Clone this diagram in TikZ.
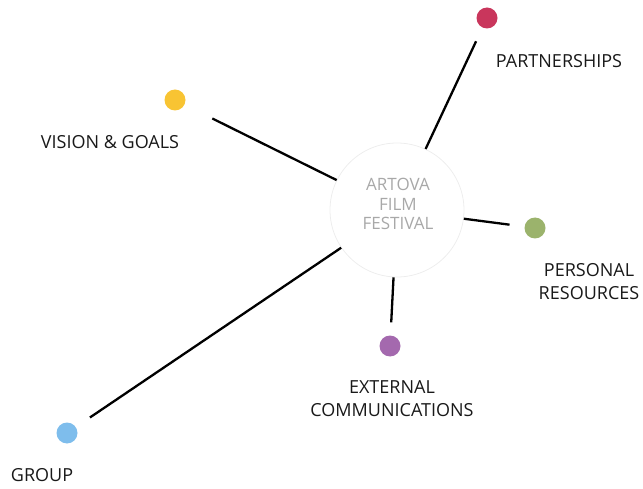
\documentclass[tikz,border=0pt]{standalone}
\usepackage{fontspec}
\setmainfont{Open Sans}
\definecolor{cPart}{HTML}{C9365C}
\definecolor{cVis}{HTML}{F8C433}
\definecolor{cPers}{HTML}{9BB36C}
\definecolor{cExt}{HTML}{A469AE}
\definecolor{cGrp}{HTML}{7EBDEC}
\definecolor{hubline}{HTML}{EDEDED}
\definecolor{hubtext}{HTML}{A8A8A8}
\begin{document}
\begin{tikzpicture}[x=1pt,y=-1pt,
  dot/.style={circle,minimum size=21pt,inner sep=0pt},
  lbl/.style={font=\fontsize{18}{23}\selectfont,text=black!90,align=center,inner sep=0pt},
  spoke/.style={line width=2.3pt,black}]
\useasboundingbox (0,0) rectangle (643,489);
% central hub
\node[circle,draw=hubline,line width=0.8pt,minimum size=134pt,inner sep=0pt] (hub) at (397,210) {};
\node[font=\fontsize{17}{19.5}\selectfont,text=hubtext,align=center,inner sep=0pt] (hubtxt) at (398,204)
      {ARTOVA\\FILM\\FESTIVAL};
% topic dots
\node[dot,fill=cPart] (part) at (487,18) {};
\node[dot,fill=cVis] (vis) at (175,100) {};
\node[dot,fill=cPers] (pers) at (535,228) {};
\node[dot,fill=cExt] (ext) at (390,346) {};
\node[dot,fill=cGrp] (grp) at (67,433) {};
% labels
\node[lbl] (lpart) at (559,61) {PARTNERSHIPS};
\node[lbl] (lvis) at (110,142) {VISION \& GOALS};
\node[lbl] (lpers) at (589,282) {PERSONAL\\RESOURCES};
\node[lbl] (lext) at (392,399) {EXTERNAL\\COMMUNICATIONS};
\node[lbl] (lgrp) at (42,475) {GROUP};
% spokes, stopping short of the dots
\draw[spoke,shorten >=15pt] (hub) -- (part);
\draw[spoke,shorten >=31pt] (hub) -- (vis);
\draw[spoke,shorten >=15pt] (hub) -- (pers);
\draw[spoke,shorten >=13pt] (hub) -- (ext);
\draw[spoke,shorten >=17pt] (hub) -- (grp);
\end{tikzpicture}
\end{document}
